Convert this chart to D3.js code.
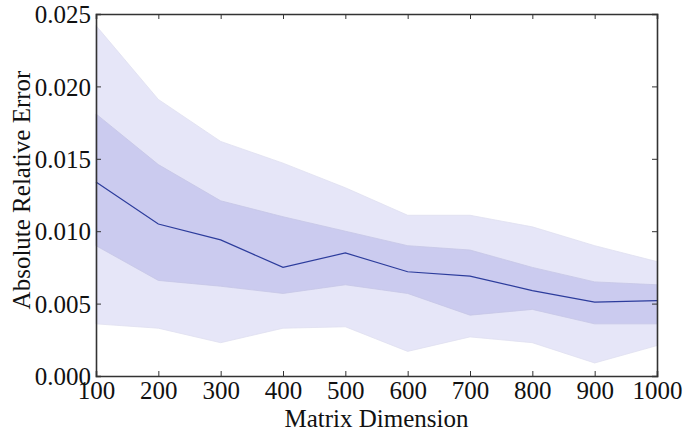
<!DOCTYPE html>
<html><head><meta charset="utf-8">
<script src="https://cdn.jsdelivr.net/npm/d3@7"></script>
<style>
html,body{margin:0;padding:0;background:#fff;}
</style></head>
<body>
<svg id="chart" width="685" height="434"></svg>
<script>
const dims = [100,200,300,400,500,600,700,800,900,1000];
const meanErr = [0.0134,0.0105,0.0094,0.0075,0.0085,0.0072,0.0069,0.0059,0.0051,0.0052];
const innerUpper = [0.0181,0.0146,0.0121,0.0110,0.0100,0.0090,0.0087,0.0075,0.0065,0.0063];
const innerLower = [0.0090,0.0066,0.0062,0.0057,0.0063,0.0057,0.0042,0.0046,0.0036,0.0036];
const outerUpper = [0.0242,0.0191,0.0162,0.0147,0.0130,0.0111,0.0111,0.0103,0.0090,0.0079];
const outerLower = [0.0036,0.0033,0.0023,0.0033,0.0034,0.0017,0.0027,0.0023,0.0009,0.0021];
const xTicks = [100,200,300,400,500,600,700,800,900,1000];
const yTicks = [0,0.005,0.010,0.015,0.020,0.025];

const FONT = "'Liberation Serif', 'Times New Roman', serif";
const FS = "25px";
const m = {left:96,right:28,top:14,bottom:58};
const W = 685, H = 434;
const iw = W - m.left - m.right, ih = H - m.top - m.bottom;
const svg = d3.select("#chart");
const g = svg.append("g").attr("transform",`translate(${m.left},${m.top})`);
const x = d3.scaleLinear().domain([100,1000]).range([0,iw]);
const y = d3.scaleLinear().domain([0,0.025]).range([ih,0]);

const data = dims.map((d,i)=>({d, m:meanErr[i], iu:innerUpper[i], il:innerLower[i], ou:outerUpper[i], ol:outerLower[i]}));

g.append("path").datum(data)
  .attr("d", d3.area().x(d=>x(d.d)).y0(d=>y(d.ol)).y1(d=>y(d.ou)))
  .attr("fill","#e6e6f8").attr("stroke","#e0e0f0").attr("stroke-width",0.8);
g.append("path").datum(data)
  .attr("d", d3.area().x(d=>x(d.d)).y0(d=>y(d.il)).y1(d=>y(d.iu)))
  .attr("fill","#cbcbef").attr("stroke","#c6c6e6").attr("stroke-width",0.8);
g.append("path").datum(data)
  .attr("d", d3.line().x(d=>x(d.d)).y(d=>y(d.m)))
  .attr("fill","none").attr("stroke","#2c3c9c").attr("stroke-width",1.2);

const fmt = d3.format(".3f");
const axB = g.append("g").attr("transform",`translate(0,${ih})`)
  .call(d3.axisBottom(x).tickValues(xTicks).tickSize(-5).tickFormat(d3.format("d")));
const axT = g.append("g")
  .call(d3.axisTop(x).tickValues(xTicks).tickSize(-5).tickFormat(""));
const axL = g.append("g")
  .call(d3.axisLeft(y).tickValues(yTicks).tickSize(-5).tickFormat(fmt));
const axR = g.append("g").attr("transform",`translate(${iw},0)`)
  .call(d3.axisRight(y).tickValues(yTicks).tickSize(-5).tickFormat(""));
[axB,axT,axL,axR].forEach(a=>{
  a.attr("font-family",null).attr("font-size",null);
  a.select(".domain").attr("stroke","#333").attr("stroke-width",1.6);
  a.selectAll(".tick line").attr("stroke","#333").attr("stroke-width",1);
  a.selectAll("text").style("font-family",FONT).style("font-size",FS).style("fill","#111");
});
axB.selectAll("text").attr("y",5).attr("dy","0.71em");
axL.selectAll("text").attr("x",-5).attr("dy","0.35em");

svg.append("text").attr("x", m.left + iw/2).attr("y", 427)
  .attr("text-anchor","middle").style("font-family",FONT).style("font-size",FS).style("fill","#111")
  .text("Matrix Dimension");
svg.append("text").attr("transform",`translate(30,${m.top+ih/2-5}) rotate(-90)`)
  .attr("text-anchor","middle").style("font-family",FONT).style("font-size",FS).style("fill","#111")
  .text("Absolute Relative Error");
</script>
</body></html>
